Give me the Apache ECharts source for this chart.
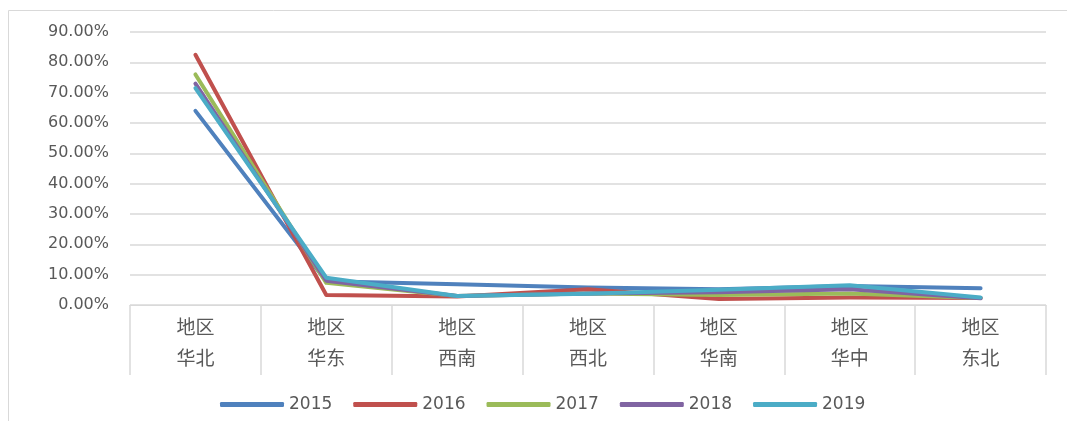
<!DOCTYPE html>
<html><head><meta charset="utf-8">
<script src="https://cdn.jsdelivr.net/npm/echarts@6/dist/echarts.min.js"></script>
<style>html,body{margin:0;padding:0;background:#fff}#c{width:1067px;height:421px}</style>
</head><body><div id="c"></div>
<script>
const categories = ['地区\n华北','地区\n华东','地区\n西南','地区\n西北','地区\n华南','地区\n华中','地区\n东北'];
const years = ['2015','2016','2017','2018','2019'];
const s2015 = [0.640, 0.078, 0.068, 0.058, 0.052, 0.063, 0.055];
const s2016 = [0.825, 0.033, 0.028, 0.052, 0.020, 0.025, 0.023];
const s2017 = [0.760, 0.073, 0.030, 0.038, 0.033, 0.038, 0.023];
const s2018 = [0.730, 0.080, 0.030, 0.038, 0.042, 0.052, 0.022];
const s2019 = [0.715, 0.090, 0.030, 0.037, 0.050, 0.065, 0.025];
const yTicks = [0, 0.9, 0.1]; // min, max, interval
const colors = ['#4F81BD','#C0504D','#9BBB59','#8064A2','#4BACC6'];
const allSeries = [s2015, s2016, s2017, s2018, s2019];

const chart = echarts.init(document.getElementById('c'));
chart.setOption({
  animation: false,
  color: colors,
  graphic: [{type:'rect', shape:{x:8.5,y:10.5,width:1080,height:430}, style:{fill:'none', stroke:'#d9d9d9', lineWidth:1}, silent:true, z:-1}],
  grid: {left:130, right:21, top:32, bottom:116},
  legend: {
    left: 215, top: 391, itemWidth: 64, itemHeight: 5, itemGap: 21, icon: 'roundRect',
    textStyle: {fontFamily:'DejaVu Sans', fontSize:17, color:'#595959'},
    data: years
  },
  xAxis: {
    type:'category', data: categories, boundaryGap: true,
    axisLine:{lineStyle:{color:'#d9d9d9', width:1}},
    axisTick:{show:true, length:70, lineStyle:{color:'#d9d9d9', width:1.5}},
    axisLabel:{fontFamily:'Noto Sans CJK SC', fontSize:19, color:'#595959', lineHeight:31, margin:6}
  },
  yAxis: {
    type:'value', min: yTicks[0], max: yTicks[1], interval: yTicks[2],
    axisLine:{show:false}, axisTick:{show:false},
    splitLine:{lineStyle:{color:'#d9d9d9', width:1.5}},
    axisLabel:{fontFamily:'DejaVu Sans', fontSize:16, color:'#595959', margin:21,
      formatter: v => (v*100).toFixed(2) + '%'}
  },
  series: allSeries.map((d,i) => ({
    name: years[i], type:'line', data:d, symbol:'none',
    lineStyle:{width:4, cap:'round', join:'round'}
  }))
});
</script></body></html>
